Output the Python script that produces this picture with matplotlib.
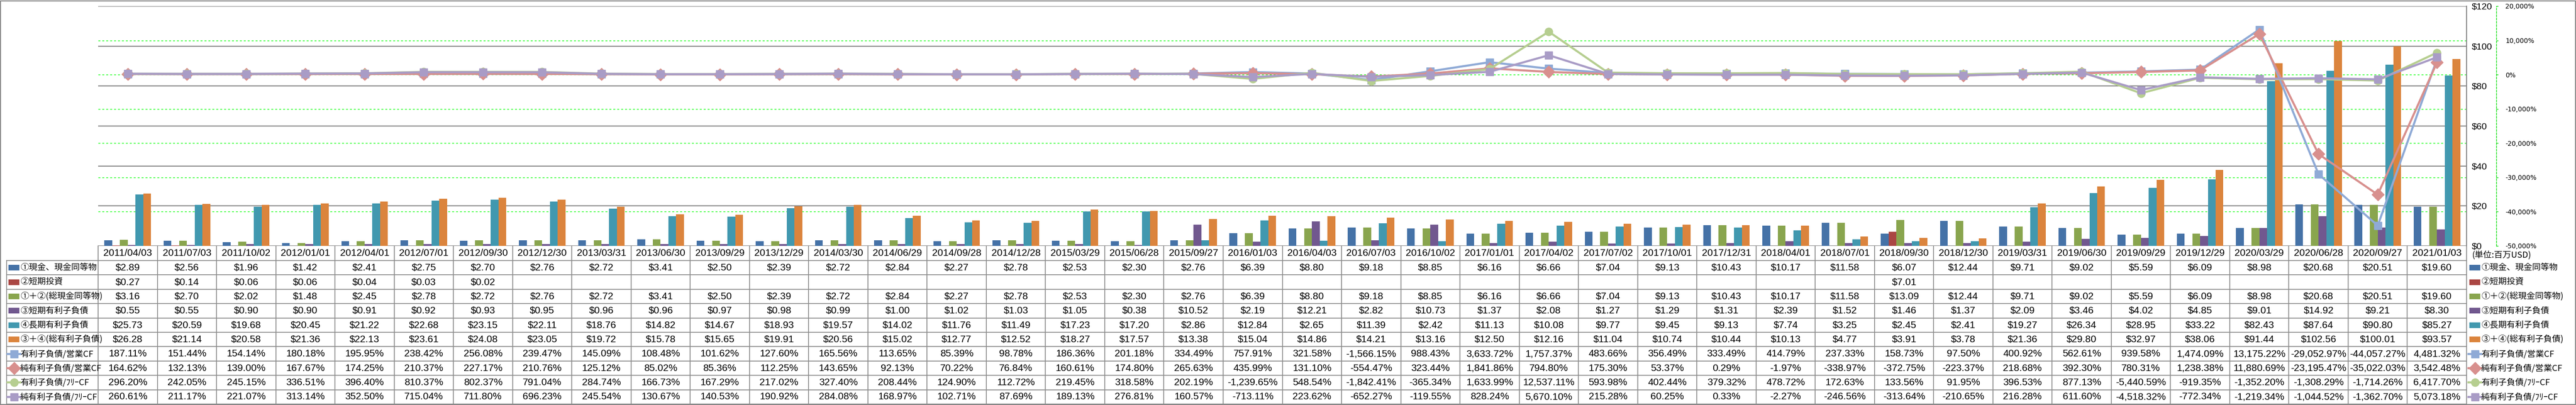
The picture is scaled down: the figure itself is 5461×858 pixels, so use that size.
import numpy as np
import matplotlib.pyplot as plt
from matplotlib import transforms
from matplotlib.lines import Line2D
from matplotlib.patches import Rectangle

# 決算日
dates = ['2011/04/03', '2011/07/03', '2011/10/02', '2012/01/01', '2012/04/01', '2012/07/01',
         '2012/09/30', '2012/12/30', '2013/03/31', '2013/06/30', '2013/09/29', '2013/12/29',
         '2014/03/30', '2014/06/29', '2014/09/28', '2014/12/28', '2015/03/29', '2015/06/28',
         '2015/09/27', '2016/01/03', '2016/04/03', '2016/07/03', '2016/10/02', '2017/01/01',
         '2017/04/02', '2017/07/02', '2017/10/01', '2017/12/31', '2018/04/01', '2018/07/01',
         '2018/09/30', '2018/12/30', '2019/03/31', '2019/06/30', '2019/09/29', '2019/12/29',
         '2020/03/29', '2020/06/28', '2020/09/27', '2021/01/03']

# 棒グラフ (百万USD)
cash = [2.89, 2.56, 1.96, 1.42, 2.41, 2.75, 2.70, 2.76, 2.72, 3.41, 2.50, 2.39, 2.72, 2.84,
        2.27, 2.78, 2.53, 2.30, 2.76, 6.39, 8.80, 9.18, 8.85, 6.16, 6.66, 7.04, 9.13, 10.43,
        10.17, 11.58, 6.07, 12.44, 9.71, 9.02, 5.59, 6.09, 8.98, 20.68, 20.51, 19.60]
short_inv = [0.27, 0.14, 0.06, 0.06, 0.04, 0.03, 0.02, None, None, None, None, None, None,
             None, None, None, None, None, None, None, None, None, None, None, None, None,
             None, None, None, None, 7.01, None, None, None, None, None, None, None, None, None]
total_cash = [3.16, 2.70, 2.02, 1.48, 2.45, 2.78, 2.72, 2.76, 2.72, 3.41, 2.50, 2.39, 2.72,
              2.84, 2.27, 2.78, 2.53, 2.30, 2.76, 6.39, 8.80, 9.18, 8.85, 6.16, 6.66, 7.04,
              9.13, 10.43, 10.17, 11.58, 13.09, 12.44, 9.71, 9.02, 5.59, 6.09, 8.98, 20.68,
              20.51, 19.60]
short_debt = [0.55, 0.55, 0.90, 0.90, 0.91, 0.92, 0.93, 0.95, 0.96, 0.96, 0.97, 0.98, 0.99,
              1.00, 1.02, 1.03, 1.05, 0.38, 10.52, 2.19, 12.21, 2.82, 10.73, 1.37, 2.08, 1.27,
              1.29, 1.31, 2.39, 1.52, 1.46, 1.37, 2.09, 3.46, 4.02, 4.85, 9.01, 14.92, 9.21, 8.30]
long_debt = [25.73, 20.59, 19.68, 20.45, 21.22, 22.68, 23.15, 22.11, 18.76, 14.82, 14.67,
             18.93, 19.57, 14.02, 11.76, 11.49, 17.23, 17.20, 2.86, 12.84, 2.65, 11.39, 2.42,
             11.13, 10.08, 9.77, 9.45, 9.13, 7.74, 3.25, 2.45, 2.41, 19.27, 26.34, 28.95,
             33.22, 82.43, 87.64, 90.80, 85.27]
total_debt = [26.28, 21.14, 20.58, 21.36, 22.13, 23.61, 24.08, 23.05, 19.72, 15.78, 15.65,
              19.91, 20.56, 15.02, 12.77, 12.52, 18.27, 17.57, 13.38, 15.04, 14.86, 14.21,
              13.16, 12.50, 12.16, 11.04, 10.74, 10.44, 10.13, 4.77, 3.91, 3.78, 21.36, 29.80,
              32.97, 38.06, 91.44, 102.56, 100.01, 93.57]

# 折れ線 (%)
debt_ocf = [187.11, 151.44, 154.14, 180.18, 195.95, 238.42, 256.08, 239.47, 145.09, 108.48,
            101.62, 127.60, 165.56, 113.65, 85.39, 98.78, 186.36, 201.18, 334.49, 757.91,
            321.58, -1566.15, 988.43, 3633.72, 1757.37, 483.66, 356.49, 333.49, 414.79,
            237.33, 158.73, 97.50, 400.92, 562.61, 939.58, 1474.09, 13175.22, -29052.97,
            -44057.27, 4481.32]
net_debt_ocf = [164.62, 132.13, 139.00, 167.67, 174.25, 210.37, 227.17, 210.76, 125.12, 85.02,
                85.36, 112.25, 143.65, 92.13, 70.22, 76.84, 160.61, 174.80, 265.63, 435.99,
                131.10, -554.47, 323.44, 1841.86, 794.80, 175.30, 53.37, 0.29, -1.97, -338.97,
                -372.75, -223.37, 218.68, 392.30, 780.31, 1238.38, 11880.69, -23195.47,
                -35022.03, 3542.48]
debt_fcf = [296.20, 242.05, 245.15, 336.51, 396.40, 810.37, 802.37, 791.04, 284.74, 166.73,
            167.29, 217.02, 327.40, 208.44, 124.90, 112.72, 219.45, 318.58, 202.19, -1239.65,
            548.54, -1842.41, -365.34, 1633.99, 12537.11, 593.98, 402.44, 379.32, 478.72,
            172.63, 133.56, 91.95, 396.53, 877.13, -5440.59, -919.35, -1352.20, -1308.29,
            -1714.26, 6417.70]
net_debt_fcf = [260.61, 211.17, 221.07, 313.14, 352.50, 715.04, 711.80, 696.23, 245.54, 130.67,
                140.53, 190.92, 284.08, 168.97, 102.71, 87.69, 189.13, 276.81, 160.57, -713.11,
                223.62, -652.27, -119.55, 828.24, 5670.10, 215.28, 60.25, 0.33, -2.27, -246.56,
                -313.64, -210.65, 216.28, 611.60, -4518.32, -772.34, -1219.34, -1044.52,
                -1362.70, 5073.18]

bar_names = ['①現金、現金同等物', '②短期投資', '①＋②(総現金同等物)',
             '③短期有利子負債', '④長期有利子負債', '③＋④(総有利子負債)']
line_names = ['有利子負債/営業CF', '純有利子負債/営業CF', '有利子負債/ﾌﾘｰCF', '純有利子負債/ﾌﾘｰCF']

bar_data = [cash, short_inv, total_cash, short_debt, long_debt, total_debt]
line_data = [debt_ocf, net_debt_ocf, debt_fcf, net_debt_fcf]
bar_colors = ['#4572A7', '#AA4643', '#89A54E', '#71588F', '#4198AF', '#DB843D']
line_colors = ['#8FAAD6', '#D8908E', '#B6CE90', '#A99CC6']
line_markers = ['s', 'D', 'o', 's']
line_ms = [11, 13, 12, 11]

NUM_FONT = ['Liberation Sans', 'DejaVu Sans']
JP_FONT = ['Noto Sans CJK JP', 'DejaVu Sans']

W, H = 5461, 858
fig = plt.figure(figsize=(W / 100, H / 100), dpi=100)

def fx(px):
    return px / W

def fy(py):
    return 1 - py / H

L, R, T, B = 208, 5229, 13, 521
ax = fig.add_axes([fx(L), fy(B), (R - L) / W, (B - T) / H])
x = np.arange(len(dates))
n = len(dates)

bw = 0.131
for k, vals in enumerate(bar_data):
    v = np.array([np.nan if a is None else a for a in vals], dtype=float)
    ax.bar(x + (k - 2.5) * bw, v, bw, color=bar_colors[k], zorder=2, linewidth=0)

ax2 = ax.twinx()

ax.set_xlim(-0.5, n - 0.5)
ax.set_ylim(0, 120)
ax.set_xticks([])
ax.yaxis.tick_right()
ax.set_yticks(range(0, 121, 20))
ax.set_yticklabels(['$%d' % t for t in range(0, 121, 20)], fontfamily=NUM_FONT, fontsize=14)
ax.tick_params(axis='y', length=0, pad=8, left=False, labelleft=False,
               right=True, labelright=True)
ax.yaxis.grid(True, color='#868686', lw=1.5, zorder=0)
ax.set_axisbelow(True)
for s in ['left', 'top', 'bottom']:
    ax.spines[s].set_visible(False)
ax.spines['right'].set_color('#868686')
ax.spines['right'].set_linewidth(1.5)

pct_ticks = list(range(-50000, 20001, 10000))
for k, vals in enumerate(line_data):
    ax2.plot(x, vals, color=line_colors[k], lw=3.2, marker=line_markers[k], ms=line_ms[k],
             mec=line_colors[k], mfc=line_colors[k], zorder=3 + k)
ax2.set_ylim(-50000, 20000)
ax2.set_yticks(pct_ticks)
ax2.set_yticklabels(['{:,}%'.format(t) for t in pct_ticks], fontfamily='Liberation Sans',
                    fontsize=13)
for lab, t in zip(ax2.get_yticklabels(), pct_ticks):
    lab.set_color('red' if t < 0 else 'black')
ax2.tick_params(axis='y', length=3, width=1.0, color='#00DD00', pad=11, direction='out')
for s in ['left', 'top', 'bottom']:
    ax2.spines[s].set_visible(False)
ax2.spines['right'].set_position(('outward', 45))
ax2.spines['right'].set_color('#00DD00')
ax2.spines['right'].set_linewidth(1.0)
ax2.spines['right'].set_linestyle((0, (3, 2)))

# 第2軸の目盛線 (棒の後ろ)
gtrans = transforms.blended_transform_factory(ax.transAxes, ax2.transData)
for t in pct_ticks[1:-1]:
    ax.plot([0, 1], [t, t], transform=gtrans, color='#00FF00', lw=1.0,
            ls=(0, (3, 3)), zorder=1)
ax.set_ylim(0, 120)

# データテーブル
tb = transforms.blended_transform_factory(ax.transData, fig.transFigure)
row_top = 552
row_h = 30.4
nrows = 10
grid_c = '#8C8C8C'
rows_y = [row_top + i * row_h for i in range(nrows + 1)]

for yy in rows_y:
    fig.add_artist(Line2D([fx(14), fx(R)], [fy(yy), fy(yy)], transform=fig.transFigure,
                          color=grid_c, lw=1.3))
fig.add_artist(Line2D([fx(14), fx(14)], [fy(rows_y[0]), fy(rows_y[-1])],
                      transform=fig.transFigure, color=grid_c, lw=1.3))
for i in range(n + 1):
    fig.add_artist(Line2D([i - 0.5, i - 0.5], [fy(B), fy(rows_y[-1])], transform=tb,
                          color=grid_c, lw=1.3))

for i, d in enumerate(dates):
    fig.text(i, fy(537), d, transform=tb, ha='center', va='center',
             fontfamily=NUM_FONT, fontsize=15)

all_rows = bar_data + line_data
for r, vals in enumerate(all_rows):
    yc = fy(rows_y[r] + row_h / 2)
    for i, v in enumerate(vals):
        if v is None:
            continue
        s = '${:.2f}'.format(v) if r < 6 else '{:,.2f}%'.format(v)
        fig.text(i, yc, s, transform=tb, ha='center', va='center',
                 fontfamily=NUM_FONT, fontsize=15)

# 凡例キー (表の左と右)
names = bar_names + line_names
def legend_key(x0, r):
    yc = rows_y[r] + row_h / 2
    if r < 6:
        fig.add_artist(Rectangle((fx(x0), fy(yc + 6)), 23 / W, 12 / H,
                                 transform=fig.transFigure, color=bar_colors[r], lw=0))
    else:
        k = r - 6
        fig.add_artist(Line2D([fx(x0 - 2), fx(x0 + 25)], [fy(yc), fy(yc)],
                              transform=fig.transFigure, color=line_colors[k], lw=3.2))
        fig.add_artist(Line2D([fx(x0 + 11.5)], [fy(yc)], transform=fig.transFigure,
                              marker=line_markers[k], ms=line_ms[k], lw=0,
                              mec=line_colors[k], mfc=line_colors[k]))
    fig.text(fx(x0 + 25), fy(yc), names[r], ha='left', va='center',
             fontfamily=JP_FONT, fontsize=13)

for r in range(nrows):
    legend_key(18, r)
    legend_key(5235, r)

fig.text(fx(5240), fy(540), '(単位:百万USD)', ha='left', va='center',
         fontfamily=JP_FONT, fontsize=13)

fig.add_artist(Rectangle((fx(1), fy(857)), (W - 2) / W, 855 / H, transform=fig.transFigure,
                         fill=False, edgecolor='#868686', lw=1.5))

fig.savefig('out.png', dpi=100)
